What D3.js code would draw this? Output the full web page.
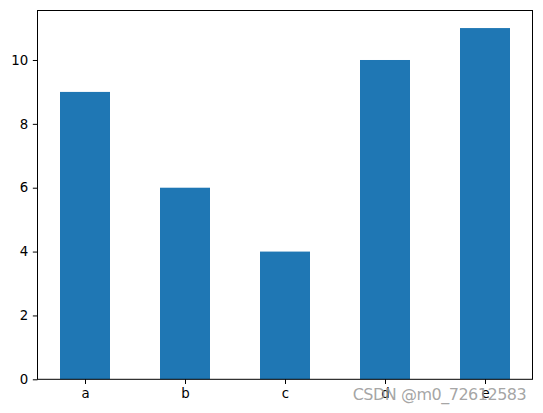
<!DOCTYPE html>
<html>
<head>
<meta charset="UTF-8">
<script src="https://cdn.jsdelivr.net/npm/d3@7"></script>
<style>
  body { margin: 0; background: #fff; }
  text { font-family: "DejaVu Sans", sans-serif; }
</style>
</head>
<body>
<svg id="chart" width="543" height="413"></svg>
<script>
var categories = ["a", "b", "c", "d", "e"];
var values = [9, 6, 4, 10, 11];
var yTicks = [0, 2, 4, 6, 8, 10];

var W = 543, H = 413;
var padL = 37.5, padR = 532.5, padT = 10.5, padB = 379.3;
var svg = d3.select("#chart");

// matplotlib style: bars width 0.5, 5% margins
var x = d3.scaleLinear().domain([-0.475, categories.length - 1 + 0.475]).range([padL, padR]);
var y = d3.scaleLinear().domain([0, 11 * 1.05]).range([padB, padT]);

svg.selectAll("rect.bar").data(values).enter().append("rect")
  .attr("class", "bar")
  .attr("x", function (d, i) { return x(i - 0.25); })
  .attr("width", function (d, i) { return x(i + 0.25) - x(i - 0.25); })
  .attr("y", function (d) { return y(d); })
  .attr("height", function (d) { return y(0) - y(d); })
  .attr("fill", "#1f77b4");

var tick = 4.67;
var xAxis = d3.axisBottom(x).tickValues(d3.range(categories.length))
  .tickFormat(function (d) { return categories[d]; })
  .tickSize(tick).tickPadding(4.67);
var yAxis = d3.axisLeft(y).tickValues(yTicks).tickFormat(d3.format("d"))
  .tickSize(tick).tickPadding(4.67);

var gx = svg.append("g").attr("transform", "translate(0," + padB + ")").call(xAxis);
var gy = svg.append("g").attr("transform", "translate(" + padL + ",0)").call(yAxis);
[gx, gy].forEach(function (g) {
  g.select(".domain").remove();
  g.selectAll("line").attr("stroke", "#000").attr("stroke-width", 1);
  g.selectAll("text").attr("font-size", "13.33px").attr("fill", "#000")
    .attr("font-family", "DejaVu Sans, sans-serif");
});

svg.append("rect")
  .attr("x", padL).attr("y", padT)
  .attr("width", padR - padL).attr("height", padB - padT)
  .attr("fill", "none").attr("stroke", "#000").attr("stroke-width", 1);

// watermark
svg.append("text")
  .attr("x", 352.7).attr("y", 400)
  .attr("font-family", "Liberation Sans, Arial, sans-serif")
  .attr("font-size", "16px")
  .attr("fill", "#9a9a9a").attr("fill-opacity", 0.9)
  .attr("textLength", 174)
  .text("CSDN @m0_72612583");
</script>
</body>
</html>
